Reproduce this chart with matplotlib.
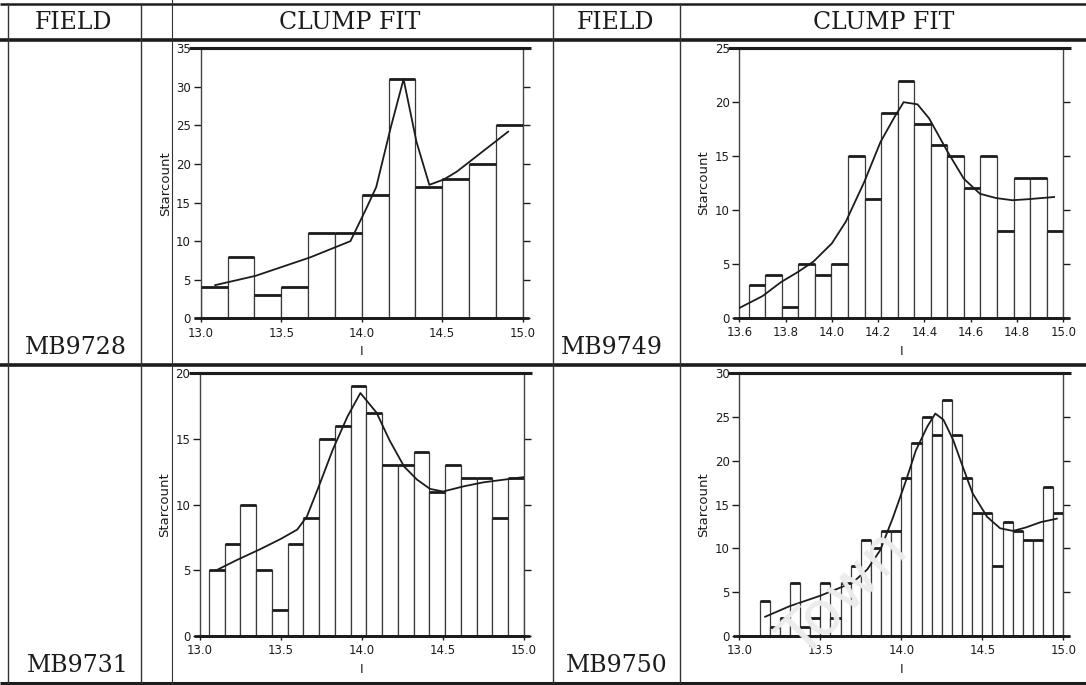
import numpy as np
import matplotlib
matplotlib.use("Agg")
import matplotlib.pyplot as plt

W, H = 1086, 685

# ---- field MB9728 -------------------------------------------------------
counts_9728 = [4, 8, 3, 4, 11, 11, 16, 31, 17, 18, 20, 25]
range_9728 = (13.0, 15.0)
fit_x_9728 = [13.09, 13.34, 13.68, 13.93, 14.03, 14.09, 14.18, 14.26, 14.34,
              14.42, 14.51, 14.59, 14.67, 14.91]
fit_y_9728 = [4.3, 5.5, 7.9, 10.0, 14.3, 17.0, 24.7, 31.0, 22.9,
              17.3, 18.0, 19.0, 20.3, 24.2]

# ---- field MB9749 -------------------------------------------------------
counts_9749 = [3, 4, 1, 5, 4, 5, 15, 11, 19, 22, 18, 16, 15, 12, 15, 8, 13, 13, 8]
range_9749 = (13.64, 15.0)
fit_x_9749 = [13.60, 13.70, 13.78, 13.85, 13.92, 14.00, 14.06, 14.14, 14.21,
              14.27, 14.31, 14.37, 14.42, 14.50, 14.57, 14.64, 14.71, 14.78,
              14.85, 14.96]
fit_y_9749 = [0.9, 2.0, 3.3, 4.2, 5.2, 6.9, 8.9, 12.6, 16.3,
              18.6, 20.0, 19.8, 18.5, 15.4, 12.9, 11.5, 11.1, 10.9,
              11.0, 11.2]

# ---- field MB9731 -------------------------------------------------------
counts_9731 = [5, 7, 10, 5, 2, 7, 9, 15, 16, 19, 17, 13, 13, 14, 11, 13, 12, 12, 9, 12]
range_9731 = (13.055, 15.0)
fit_x_9731 = [13.10, 13.23, 13.37, 13.50, 13.60, 13.66, 13.74, 13.82, 13.91,
              13.99, 14.09, 14.17, 14.26, 14.34, 14.42, 14.50, 14.63, 14.75, 15.0]
fit_y_9731 = [5.0, 5.8, 6.6, 7.4, 8.1, 9.1, 11.6, 14.2, 16.7,
              18.5, 17.0, 14.9, 12.9, 11.9, 11.2, 11.0, 11.4, 11.7, 12.1]

# ---- field MB9750 -------------------------------------------------------
counts_9750 = [4, 1, 2, 6, 1, 2, 6, 2, 6, 8, 11, 10, 12, 12, 18, 22, 25, 23, 27,
               23, 18, 14, 14, 8, 13, 12, 11, 11, 17, 14]
range_9750 = (13.125, 15.0)
fit_x_9750 = [13.16, 13.31, 13.50, 13.70, 13.79, 13.87, 13.95, 14.03, 14.09,
              14.16, 14.21, 14.26, 14.32, 14.38, 14.44, 14.53, 14.61, 14.69,
              14.77, 14.86, 14.96]
fit_y_9750 = [2.2, 3.4, 4.6, 6.1, 7.6, 9.8, 13.6, 17.8, 21.2,
              23.9, 25.4, 24.7, 22.4, 19.3, 16.3, 13.6, 12.3, 12.0,
              12.4, 13.0, 13.4]

ticks_wide = [13.0, 13.5, 14.0, 14.5, 15.0]
ticks_narrow = [13.6, 13.8, 14.0, 14.2, 14.4, 14.6, 14.8, 15.0]
field_names = ["MB9728", "MB9749", "MB9731", "MB9750"]
header_labels = ["FIELD", "CLUMP FIT", "FIELD", "CLUMP FIT"]

INK = "#1c1c1c"
SERIF = "DejaVu Serif"

fig = plt.figure(figsize=(W / 100, H / 100), dpi=100)
fig.patch.set_facecolor("white")

# table frame drawn in pixel coordinates
bg = fig.add_axes([0, 0, 1, 1], zorder=-5)
bg.set_xlim(0, W)
bg.set_ylim(H, 0)
bg.axis("off")

for y, lw in [(4, 1.8), (40, 2.6), (365, 2.6), (683, 2.2)]:
    bg.plot([0, W], [y, y], color=INK, lw=lw, solid_capstyle="butt")
for x, lw in [(8, 1.0), (141, 1.0), (553, 1.0), (680, 1.0)]:
    bg.plot([x, x], [4, 683], color="#333333", lw=lw)
bg.plot([172, 172], [0, 685], color="#333333", lw=0.8)

header_x = [74, 350, 616, 884]
for x, s in zip(header_x, header_labels):
    bg.text(x, 22, s, ha="center", va="center", fontsize=17,
            family=SERIF, color=INK)

name_pos = [(76, 347), (612, 347), (78, 666), (617, 666)]
for (x, y), s in zip(name_pos, field_names):
    bg.text(x, y, s, ha="center", va="center", fontsize=17,
            family=SERIF, color=INK)


def panel(box, counts, rng, fx, fy, xlim, ylim, xticks, yticks):
    x0, x1, ytop, ybot = box
    ax = fig.add_axes([x0 / W, 1 - ybot / H, (x1 - x0) / W, (ybot - ytop) / H])
    n = len(counts)
    edges = np.linspace(rng[0], rng[1], n + 1)
    width = edges[1] - edges[0]
    ax.bar(edges[:-1], counts, width=width, align="edge", facecolor="white",
           edgecolor="#3a3a3a", linewidth=0.9, zorder=2)
    ax.hlines(counts, edges[:-1], edges[1:], color=INK, lw=2.0, zorder=3)
    ax.plot(fx, fy, color=INK, lw=1.3, zorder=4)

    ax.set_xlim(*xlim)
    ax.set_ylim(*ylim)
    ax.set_xticks(xticks)
    ax.set_xticklabels([f"{t:.1f}" for t in xticks])
    ax.set_yticks(yticks)
    ax.set_yticklabels([str(t) for t in yticks])

    for side in ("left", "right"):
        ax.spines[side].set_linewidth(1.0)
        ax.spines[side].set_color("#444444")
    ax.spines["top"].set_linewidth(2.2)
    ax.spines["top"].set_color(INK)
    ax.spines["bottom"].set_linewidth(2.0)
    ax.spines["bottom"].set_color(INK)
    ax.plot([-0.035, 1.025], [1, 1], transform=ax.transAxes, clip_on=False,
            color=INK, lw=2.2, solid_capstyle="butt")
    ax.plot([-0.02, 1.02], [0, 0], transform=ax.transAxes, clip_on=False,
            color=INK, lw=2.0, solid_capstyle="butt")

    ax.tick_params(axis="y", left=True, right=True, direction="out",
                   length=5, width=1, labelsize=8.5, pad=2, colors=INK)
    ax.tick_params(axis="x", bottom=True, top=False, direction="out",
                   length=3, width=1, labelsize=8.5, pad=3, colors=INK)
    ax.set_ylabel("Starcount", fontsize=9.5, labelpad=3, color=INK)
    ax.set_xlabel("I", fontsize=9, labelpad=4, color=INK)
    return ax


panel((200.7, 522.7, 48.3, 318.3), counts_9728, range_9728, fit_x_9728,
      fit_y_9728, (13.0, 15.0), (0, 35), ticks_wide, list(range(0, 36, 5)))
panel((739.3, 1063.3, 48.3, 317.7), counts_9749, range_9749, fit_x_9749,
      fit_y_9749, (13.6, 15.0), (0, 25), ticks_narrow, list(range(0, 26, 5)))
panel((200.0, 524.0, 373.3, 636.0), counts_9731, range_9731, fit_x_9731,
      fit_y_9731, (13.0, 15.0), (0, 20), ticks_wide, list(range(0, 21, 5)))
panel((739.3, 1063.3, 373.3, 636.0), counts_9750, range_9750, fit_x_9750,
      fit_y_9750, (13.0, 15.0), (0, 30), ticks_wide, list(range(0, 31, 5)))

# faint diagonal stamp across the lower-right histogram
fig.text(845 / W, 1 - 595 / H, "Town", rotation=45, ha="center", va="center",
         fontsize=44, color="#ececec", family="DejaVu Sans", zorder=10)

fig.savefig("out.png", dpi=100, facecolor="white")
